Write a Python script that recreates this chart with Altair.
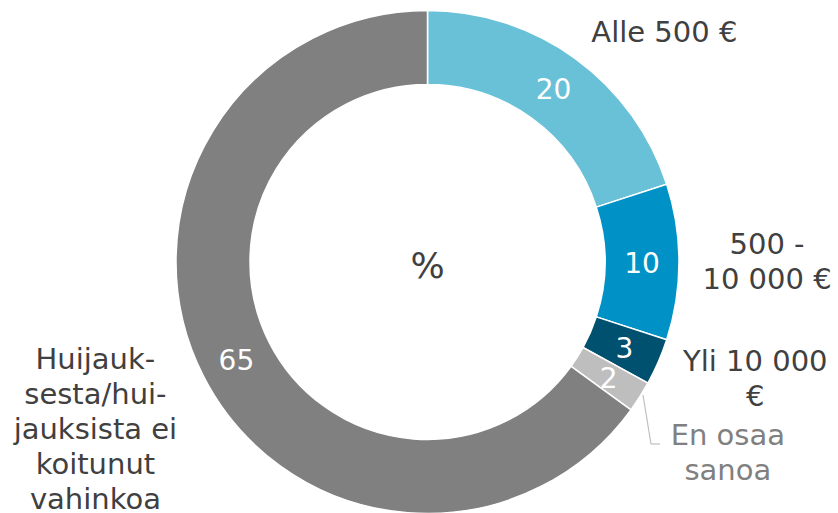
import math
import altair as alt
import pandas as pd

categories = ["Alle 500 €", "500 - 10 000 €", "Yli 10 000 €", "En osaa sanoa",
              "Huijauksesta/huijauksista ei koitunut vahinkoa"]
values = [20, 10, 3, 2, 65]
labels = ["Alle 500 €", "500 -\n10 000 €", "Yli 10 000\n€", "En osaa\nsanoa",
          "Huijauk-\nsesta/hui-\njauksista ei\nkoitunut\nvahinkoa"]
colors = ["#69C1D8", "#0092C7", "#00506F", "#BEBEBE", "#808080"]
label_colors = ["#404040", "#404040", "#404040", "#808080", "#404040"]
center_text = "%"

df = pd.DataFrame({"cat": categories, "value": values, "label": labels,
                   "idx": list(range(len(values)))})
total = sum(values)

FONT = "DejaVu Sans"
R_IN, R_OUT = 177.5, 251.5
LH = 35
theta_scale = alt.Scale(domain=[0, total], range=[0, 2 * math.pi])

base = alt.Chart(df).transform_window(
    cum="sum(value)", sort=[alt.SortField("idx")], frame=[None, 0]
).transform_calculate(
    start="datum.cum - datum.value", mid="datum.cum - datum.value / 2"
)

arcs = base.mark_arc(innerRadius=R_IN, outerRadius=R_OUT, stroke="white",
                     strokeWidth=1.5).encode(
    theta=alt.Theta("start:Q", scale=theta_scale),
    theta2="cum:Q",
    color=alt.Color("cat:N", scale=alt.Scale(domain=categories, range=colors), legend=None),
)

numbers = base.mark_text(radius=(R_IN + R_OUT) / 2, font=FONT, fontSize=28,
                         color="white", align="center", baseline="middle", dy=3).encode(
    theta=alt.Theta("mid:Q", scale=theta_scale),
    text="value:Q",
)

offsets = [(89, -26), (88, 0), (97, 18), (88, 57), (-108, 54)]
label_layers = []
for i, (dx, dy) in enumerate(offsets):
    n_lines = labels[i].count("\n") + 1
    label_layers.append(
        base.transform_filter(f"datum.idx == {i}").mark_text(
            radius=R_OUT, dx=dx, dy=dy - (n_lines - 1) * LH / 2, font=FONT, fontSize=29,
            lineHeight=LH, lineBreak="\n", color=label_colors[i], align="center",
            baseline="middle"
        ).encode(theta=alt.Theta("mid:Q", scale=theta_scale), text="label:N")
    )

center = base.transform_filter("datum.idx == 0").mark_text(
    radius=0, font=FONT, fontSize=36, color="#404040", align="center",
    baseline="middle", dy=5
).encode(theta=alt.Theta("mid:Q", scale=theta_scale), text=alt.value(center_text))

leader1 = alt.Chart(df).transform_filter("datum.idx == 3").mark_rule(
    color="#BFBFBF", strokeWidth=1.2).encode(
    x=alt.value(626), y=alt.value(384), x2=alt.value(634), y2=alt.value(433))
leader2 = alt.Chart(df).transform_filter("datum.idx == 3").mark_rule(
    color="#BFBFBF", strokeWidth=1.2).encode(
    x=alt.value(634), y=alt.value(433), x2=alt.value(643), y2=alt.value(433))

chart = alt.layer(arcs, numbers, *label_layers, center, leader1, leader2).properties(
    width=821, height=502,
    autosize=alt.AutoSizeParams(type="none"),
    padding={"left": 17, "top": 11, "right": 0, "bottom": 0},
).configure_view(stroke=None)

chart.save("out.html", embed_options={"renderer": "svg", "actions": False})
